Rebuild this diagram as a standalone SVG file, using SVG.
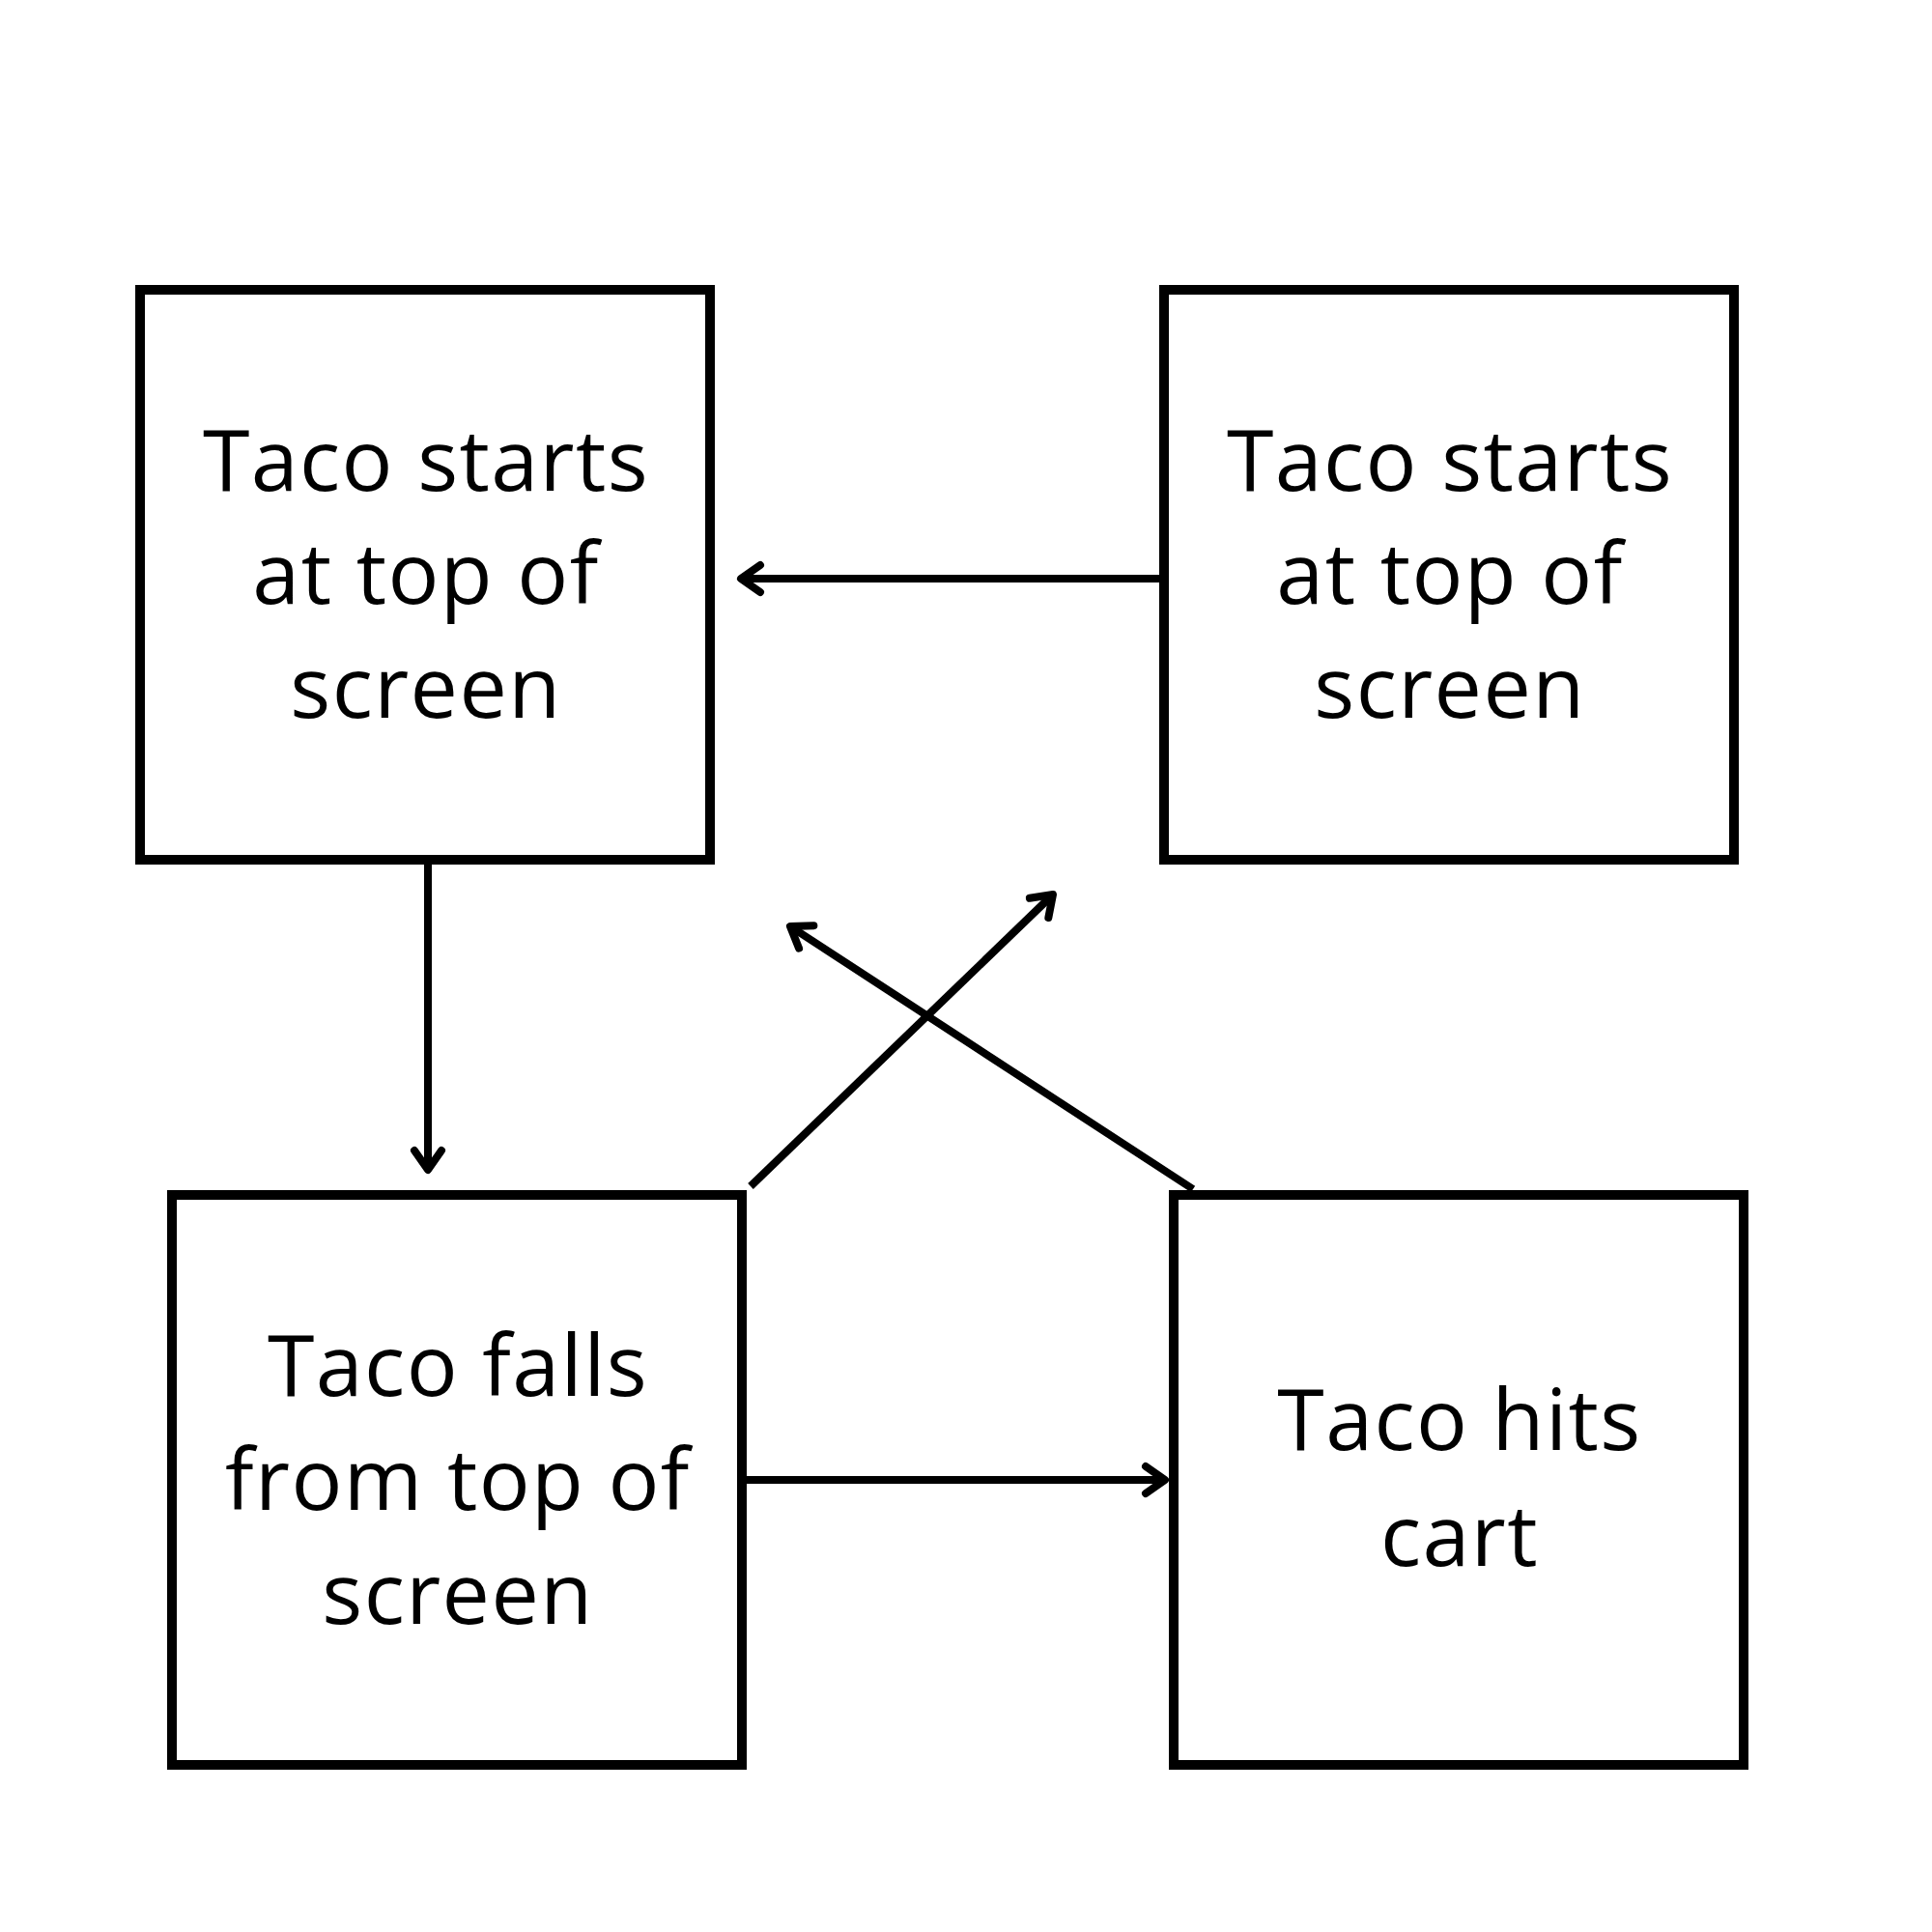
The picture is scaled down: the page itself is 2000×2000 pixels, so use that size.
<svg xmlns="http://www.w3.org/2000/svg" width="2000" height="2000" viewBox="0 0 2000 2000">
<style>
.box{fill:#fff;stroke:#000;stroke-width:10}
.lbl{font-family:"Open Sans","Noto Sans",sans-serif;font-size:88px;letter-spacing:1.4px;fill:#000;text-anchor:middle}
.conn{stroke:#000;stroke-width:8;fill:none;stroke-linecap:butt}
</style>
<defs>
<marker id="arr" markerUnits="userSpaceOnUse" orient="auto" refX="0" refY="0" markerWidth="60" markerHeight="60" viewBox="-30 -30 60 60" overflow="visible">
<path d="M-20,-14 L0,0 L-20,14" fill="none" stroke="#000" stroke-width="8" stroke-linecap="round" stroke-linejoin="round"/>
</marker>
</defs>
<rect width="2000" height="2000" fill="#fff"/>
<g id="node1">
<rect class="box" x="145" y="300" width="590" height="590"/>
<text class="lbl" x="440"><tspan x="441" y="508">Taco starts</tspan><tspan x="441" y="625">at top of</tspan><tspan x="441" y="743">screen</tspan></text>
</g>
<g id="node2">
<rect class="box" x="1205" y="300" width="590" height="590"/>
<text class="lbl" x="1500"><tspan x="1501" y="508">Taco starts</tspan><tspan x="1501" y="625">at top of</tspan><tspan x="1501" y="743">screen</tspan></text>
</g>
<g id="node3">
<rect class="box" x="178" y="1237" width="590" height="590"/>
<text class="lbl" x="473"><tspan x="474" y="1445">Taco falls</tspan><tspan x="474" y="1563">from top of</tspan><tspan x="474" y="1681">screen</tspan></text>
</g>
<g id="node4">
<rect class="box" x="1215" y="1237" width="590" height="590"/>
<text class="lbl" x="1510"><tspan x="1511" y="1501">Taco hits</tspan><tspan x="1511" y="1621">cart</tspan></text>
</g>
<g id="connectors">
<line class="conn" x1="1201" y1="599" x2="767" y2="599" marker-end="url(#arr)"/>
<line class="conn" x1="443" y1="894" x2="443" y2="1211" marker-end="url(#arr)"/>
<line class="conn" x1="773" y1="1532" x2="1206" y2="1532" marker-end="url(#arr)"/>
<line class="conn" x1="777" y1="1228" x2="1090" y2="926" marker-end="url(#arr)"/>
<line class="conn" x1="1235" y1="1231" x2="818" y2="959" marker-end="url(#arr)"/>
</g>
</svg>
